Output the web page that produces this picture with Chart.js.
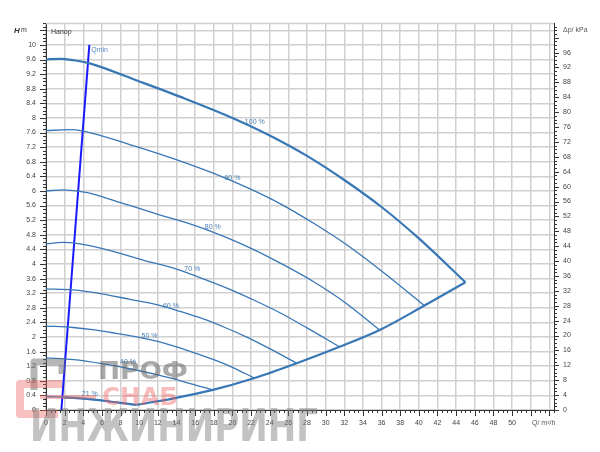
<!DOCTYPE html>
<html>
<head>
<meta charset="utf-8">
<script src="https://cdn.jsdelivr.net/npm/chart.js@4.4.0/dist/chart.umd.min.js"></script>
<style>
  html, body { margin: 0; padding: 0; background: #fff; }
  canvas { display: block; }
</style>
</head>
<body>
<canvas id="pump" width="600" height="452"></canvas>
<script>
// curve data: Q in m3/h, H in m
const q100 = [0, 1.5, 3, 4.6, 10, 15, 20, 24, 28, 32, 36, 40, 45];
const h100 = [9.6, 9.62, 9.58, 9.5, 9.0, 8.52, 8.0, 7.52, 6.96, 6.3, 5.56, 4.7, 3.5];
const q90 = [0, 2.5, 4, 9, 13.5, 18, 21.6, 25.2, 28.8, 32.4, 36, 40.6];
const h90 = [7.65, 7.68, 7.64, 7.27, 6.9, 6.48, 6.09, 5.64, 5.1, 4.5, 3.81, 2.86];
const q80 = [0, 1.8, 4.3, 8, 12, 16, 19.2, 22.4, 25.6, 28.8, 32, 35.8];
const h80 = [6.0, 6.03, 5.96, 5.68, 5.36, 5.05, 4.74, 4.38, 3.96, 3.5, 2.96, 2.19];
const q70 = [0, 1.8, 3.6, 7, 10.5, 14, 16.8, 19.6, 22.4, 25.2, 28, 31.5];
const h70 = [4.55, 4.59, 4.55, 4.36, 4.1, 3.86, 3.6, 3.32, 3.0, 2.65, 2.25, 1.73];
const q60 = [0, 2.9, 6, 9, 12, 14.4, 16.8, 19.2, 21.6, 24, 26.9];
const h60 = [3.32, 3.29, 3.18, 3.03, 2.88, 2.7, 2.5, 2.26, 1.99, 1.68, 1.28];
const q50 = [0, 2.9, 5, 7.5, 10, 12, 14, 16, 18, 20, 22.4];
const h50 = [2.3, 2.26, 2.2, 2.1, 1.99, 1.88, 1.73, 1.56, 1.38, 1.17, 0.87];
const q40 = [0, 3, 6, 9, 12, 15, 17.9];
const h40 = [1.43, 1.38, 1.27, 1.13, 0.96, 0.76, 0.55];
const q21 = [0, 3, 6, 9.7];
const h21 = [0.37, 0.33, 0.26, 0.14];
// end line of the speed curves (thick), left and right of its minimum
const qEndL = [2.0, 3, 6, 9.7];
const hEndL = [0.34, 0.33, 0.26, 0.14];
const qEndR = [9.7, 13.7, 17.9, 22.3, 26.9, 31.5, 35.8, 40.6, 45];
const hEndR = [0.14, 0.32, 0.55, 0.87, 1.28, 1.73, 2.19, 2.86, 3.5];
const qMinQ = [1.65, 4.65];
const qMinH = [0, 10];

// curve labels: text, Q, H
const curveLabels = ['100 %', '90 %', '80 %', '70 %', '60 %', '50 %', '40 %', '21 %'];
const labelQ = [22.4, 20.0, 17.9, 15.7, 13.4, 11.1, 8.8, 4.7];
const labelH = [7.9, 6.36, 5.02, 3.86, 2.86, 2.03, 1.31, 0.44];

const Q_MAX = 54.5;
const H_MAX = 10.6;
const KPA_PER_M = 9.80665;

const curveColor = '#3877b5';

function pts(qs, hs) {
  return qs.map((q, i) => ({ x: q, y: hs[i] }));
}

function curve(qs, hs, width) {
  return {
    data: pts(qs, hs),
    borderColor: curveColor,
    borderWidth: width,
    pointRadius: 0,
    fill: false,
    cubicInterpolationMode: 'monotone',
    yAxisID: 'y'
  };
}

const FONT = '"Liberation Sans", Arial, sans-serif';

const extras = {
  id: 'extras',
  afterDraw(chart) {
    const ctx = chart.ctx;
    const xs = chart.scales.x, ys = chart.scales.y, ps = chart.scales.p;
    const a = chart.chartArea;
    ctx.save();

    // top frame
    ctx.strokeStyle = '#cfcfcf';
    ctx.lineWidth = 1.5;
    ctx.beginPath();
    ctx.moveTo(a.left, a.top + 0.5);
    ctx.lineTo(a.right, a.top + 0.5);
    ctx.stroke();

    // ruler ticks
    ctx.strokeStyle = '#333';
    ctx.lineWidth = 1;
    ctx.beginPath();
    for (let i = 0; i <= Math.round(H_MAX * 10); i++) {
      const y = Math.round(ys.getPixelForValue(i / 10)) + 0.5;
      const len = i % 4 === 0 ? 6 : 3;
      ctx.moveTo(a.left - len, y);
      ctx.lineTo(a.left, y);
    }
    for (let i = 0; i <= Math.floor(Q_MAX * 2); i++) {
      const x = Math.round(xs.getPixelForValue(i / 2)) + 0.5;
      const len = i % 4 === 0 ? 6 : 3;
      ctx.moveTo(x, a.bottom);
      ctx.lineTo(x, a.bottom + len);
    }
    for (let i = 0; i <= Math.floor(H_MAX * KPA_PER_M); i++) {
      const y = Math.round(ps.getPixelForValue(i)) + 0.5;
      const len = i % 4 === 0 ? 5 : 3;
      ctx.moveTo(a.right, y);
      ctx.lineTo(a.right + len, y);
    }
    ctx.stroke();

    // axis titles
    const yTitle = ys.getPixelForValue(10.4);
    ctx.fillStyle = '#333';
    ctx.textBaseline = 'middle';
    ctx.textAlign = 'left';
    ctx.font = 'bold italic 8px ' + FONT;
    ctx.fillText('H', 14, yTitle);
    ctx.font = '7px ' + FONT;
    ctx.fillText('m', 21, yTitle);
    ctx.fillStyle = '#555';
    ctx.fillText('Δp/ kPa', 563, yTitle);
    ctx.fillText('Q/ m³/h', 532, a.bottom + 13);
    ctx.fillStyle = '#333';
    ctx.fillText('Напор', a.left + 5, yTitle + 2);

    // curve labels
    ctx.fillStyle = '#4a80b8';
    ctx.font = '7px ' + FONT;
    ctx.textAlign = 'center';
    curveLabels.forEach((t, i) => {
      ctx.fillText(t, xs.getPixelForValue(labelQ[i]), ys.getPixelForValue(labelH[i]));
    });
    ctx.textAlign = 'left';
    ctx.fillStyle = '#5b8fc7';
    ctx.fillText('Qmin', xs.getPixelForValue(4.85), ys.getPixelForValue(9.85));

    // watermark
    function fitText(t, x, base, w) {
      const m = ctx.measureText(t).width;
      ctx.save();
      ctx.translate(x, base);
      ctx.scale(w / m, 1);
      ctx.fillText(t, 0, 0);
      ctx.restore();
    }
    ctx.textAlign = 'left';
    ctx.textBaseline = 'alphabetic';
    ctx.lineCap = 'butt';
    ctx.lineJoin = 'round';
    ctx.strokeStyle = 'rgba(110,110,110,0.5)';
    ctx.lineWidth = 7;
    ctx.beginPath();
    ctx.moveTo(34, 390);
    ctx.lineTo(34, 362);
    ctx.lineTo(62, 362);
    ctx.lineTo(62, 374);
    ctx.stroke();
    ctx.strokeStyle = 'rgba(238,95,95,0.4)';
    ctx.lineWidth = 8;
    ctx.beginPath();
    ctx.moveTo(62, 384);
    ctx.lineTo(20, 384);
    ctx.lineTo(20, 414);
    ctx.lineTo(58, 414);
    ctx.stroke();
    ctx.lineWidth = 4;
    ctx.beginPath();
    ctx.moveTo(40, 397);
    ctx.lineTo(96, 397);
    ctx.stroke();

    ctx.font = 'bold 25px "DejaVu Sans"';
    ctx.fillStyle = 'rgba(100,100,100,0.55)';
    fitText('ПРОФ', 98, 379, 90);
    ctx.fillStyle = 'rgba(238,95,95,0.42)';
    fitText('СНАБ', 102, 405, 76);
    ctx.font = 'bold 44px "DejaVu Sans"';
    ctx.fillStyle = 'rgba(120,120,120,0.45)';
    fitText('ИНЖИНИРИНГ', 30, 441, 288);

    ctx.restore();
  }
};

new Chart(document.getElementById('pump'), {
  type: 'scatter',
  data: {
    datasets: [
      curve(q90, h90, 1.3),
      curve(q80, h80, 1.3),
      curve(q70, h70, 1.3),
      curve(q60, h60, 1.3),
      curve(q50, h50, 1.3),
      curve(q40, h40, 1.3),
      curve(q21, h21, 1.3),
      curve(q100, h100, 2.2),
      curve(qEndL, hEndL, 2.2),
      curve(qEndR, hEndR, 2.2),
      {
        data: pts(qMinQ, qMinH),
        borderColor: '#1a1aff',
        borderWidth: 2,
        pointRadius: 0,
        tension: 0,
        yAxisID: 'y'
      }
    ]
  },
  options: {
    responsive: false,
    devicePixelRatio: 1,
    animation: false,
    showLine: true,
    layout: { padding: { top: 23, left: 0, right: 0, bottom: 0 } },
    plugins: { legend: { display: false }, tooltip: { enabled: false } },
    scales: {
      x: {
        type: 'linear',
        position: 'bottom',
        min: 0,
        max: Q_MAX,
        afterFit: s => { s.height = 42; },
        border: { display: true, color: '#333', width: 1 },
        grid: { color: '#d0d0d0', lineWidth: 1.5, drawTicks: false },
        ticks: {
          stepSize: 2,
          includeBounds: false,
          padding: 9,
          maxRotation: 0,
          autoSkip: false,
          color: '#444',
          font: { size: 7, family: FONT },
          callback: v => (v >= 52 ? '' : String(Math.round(v)))
        }
      },
      y: {
        type: 'linear',
        position: 'left',
        min: 0,
        max: H_MAX,
        afterFit: s => { s.width = 46; },
        border: { display: true, color: '#333', width: 1 },
        grid: { color: '#d0d0d0', lineWidth: 1.5, drawTicks: false },
        ticks: {
          stepSize: 0.4,
          includeBounds: false,
          padding: 10,
          autoSkip: false,
          color: '#444',
          font: { size: 7, family: FONT },
          callback: v => {
            const r = Math.round(v * 10) / 10;
            return r > 10.2 ? '' : String(r);
          }
        }
      },
      p: {
        type: 'linear',
        position: 'right',
        display: true,
        min: 0,
        max: H_MAX * KPA_PER_M,
        afterFit: s => { s.width = 46; },
        border: { display: true, color: '#333', width: 1 },
        grid: { display: false, drawTicks: false },
        ticks: {
          stepSize: 4,
          includeBounds: false,
          padding: 9,
          autoSkip: false,
          color: '#444',
          font: { size: 7, family: FONT },
          callback: v => (v >= 100 ? '' : String(Math.round(v)))
        }
      }
    }
  },
  plugins: [extras]
});
</script>
</body>
</html>
